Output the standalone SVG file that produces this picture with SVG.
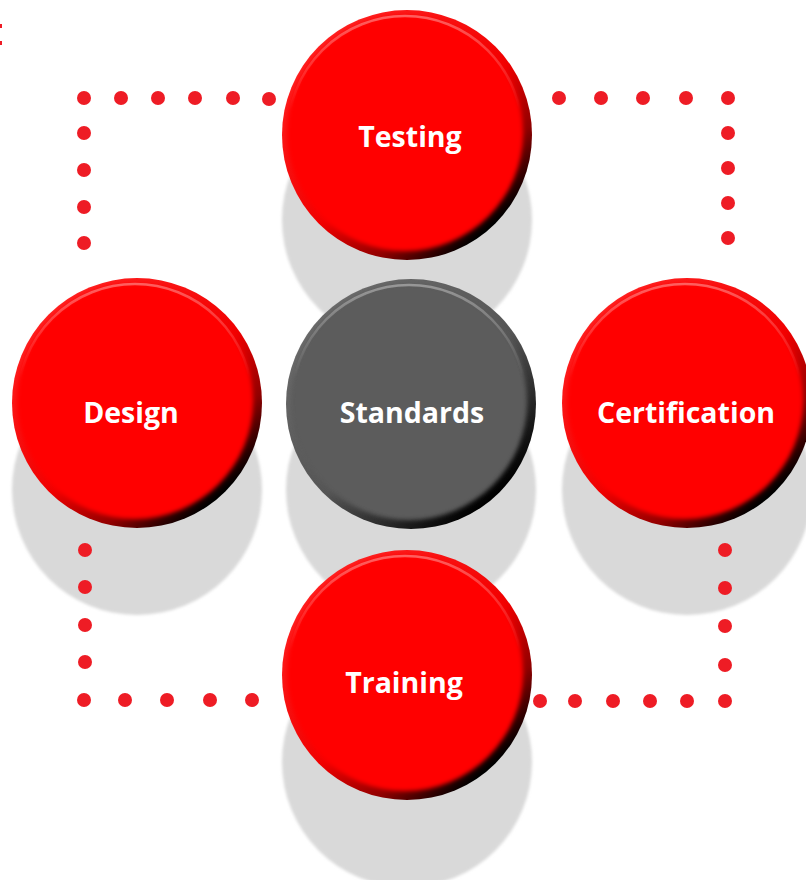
<svg xmlns="http://www.w3.org/2000/svg" width="806" height="880" viewBox="0 0 806 880">
<defs>
<style>
.dot{fill:#ee1c25}
.shadow{fill:#d9d9d9}
.lbl{font-family:"Open Sans","Noto Sans",sans-serif;font-weight:bold;font-size:28.5px;fill:#fff;text-anchor:middle;dominant-baseline:central}
</style>
<linearGradient id="redEdge" x1="0.2" y1="0.1" x2="0.85" y2="0.85">
<stop offset="0" stop-color="#ff2020"/>
<stop offset="0.55" stop-color="#f00000"/>
<stop offset="0.8" stop-color="#900000"/>
<stop offset="1" stop-color="#000"/>
</linearGradient>
<linearGradient id="grayEdge" x1="0.2" y1="0.1" x2="0.85" y2="0.85">
<stop offset="0" stop-color="#6a6a6a"/>
<stop offset="0.55" stop-color="#555"/>
<stop offset="0.8" stop-color="#2a2a2a"/>
<stop offset="1" stop-color="#000"/>
</linearGradient>
<linearGradient id="hl" x1="0" y1="0" x2="0" y2="1">
<stop offset="0" stop-color="#fff" stop-opacity="0.35"/>
<stop offset="0.4" stop-color="#fff" stop-opacity="0"/>
</linearGradient>
<filter id="blur" x="-10%" y="-10%" width="120%" height="120%"><feGaussianBlur stdDeviation="1.5"/></filter>
<filter id="soft" x="-10%" y="-10%" width="120%" height="120%"><feGaussianBlur stdDeviation="2"/></filter>
</defs>
<rect width="806" height="880" fill="#fff"/>
<rect x="0" y="24" width="2" height="4" fill="#ee1c25"/>
<rect x="0" y="41" width="2" height="4" fill="#ee1c25"/>
<g id="shadows">
<circle class="shadow" cx="407" cy="220" r="125" filter="url(#blur)"/>
<circle class="shadow" cx="137" cy="490" r="125" filter="url(#blur)"/>
<circle class="shadow" cx="411" cy="490" r="125" filter="url(#blur)"/>
<circle class="shadow" cx="687" cy="490" r="125" filter="url(#blur)"/>
<circle class="shadow" cx="407" cy="762" r="125" filter="url(#blur)"/>
</g>
<g id="connectors">
<circle class="dot" cx="84" cy="98" r="7"/><circle class="dot" cx="121" cy="98" r="7"/><circle class="dot" cx="158" cy="98" r="7"/><circle class="dot" cx="195" cy="98" r="7"/><circle class="dot" cx="233" cy="98" r="7"/><circle class="dot" cx="269" cy="99" r="7"/>
<circle class="dot" cx="84" cy="133" r="7"/><circle class="dot" cx="84" cy="170" r="7"/><circle class="dot" cx="84" cy="207" r="7"/><circle class="dot" cx="84" cy="243" r="7"/>
<circle class="dot" cx="559" cy="98" r="7"/><circle class="dot" cx="601" cy="98" r="7"/><circle class="dot" cx="643" cy="98" r="7"/><circle class="dot" cx="686" cy="98" r="7"/><circle class="dot" cx="728" cy="98" r="7"/>
<circle class="dot" cx="728" cy="133" r="7"/><circle class="dot" cx="728" cy="168" r="7"/><circle class="dot" cx="728" cy="203" r="7"/><circle class="dot" cx="728" cy="238" r="7"/>
<circle class="dot" cx="85" cy="550" r="7"/><circle class="dot" cx="85" cy="587" r="7"/><circle class="dot" cx="85" cy="625" r="7"/><circle class="dot" cx="85" cy="662" r="7"/>
<circle class="dot" cx="84" cy="700" r="7"/><circle class="dot" cx="125" cy="700" r="7"/><circle class="dot" cx="167" cy="700" r="7"/><circle class="dot" cx="210" cy="700" r="7"/><circle class="dot" cx="252" cy="700" r="7"/>
<circle class="dot" cx="725" cy="550" r="7"/><circle class="dot" cx="725" cy="588" r="7"/><circle class="dot" cx="725" cy="626" r="7"/><circle class="dot" cx="725" cy="665" r="7"/>
<circle class="dot" cx="540" cy="701" r="7"/><circle class="dot" cx="575" cy="701" r="7"/><circle class="dot" cx="613" cy="701" r="7"/><circle class="dot" cx="650" cy="701" r="7"/><circle class="dot" cx="687" cy="701" r="7"/><circle class="dot" cx="725" cy="701" r="7"/>
</g>
<g id="testing">
<circle cx="407" cy="135" r="125" fill="url(#redEdge)"/>
<circle cx="405" cy="133" r="118" fill="#ff0000" filter="url(#soft)"/>
<circle cx="405" cy="133" r="117" fill="none" stroke="url(#hl)" stroke-width="2.5"/>
<text class="lbl" x="410" y="136">Testing</text>
</g>
<g id="design">
<circle cx="137" cy="403" r="125" fill="url(#redEdge)"/>
<circle cx="135" cy="401" r="118" fill="#ff0000" filter="url(#soft)"/>
<circle cx="135" cy="401" r="117" fill="none" stroke="url(#hl)" stroke-width="2.5"/>
<text class="lbl" x="131" y="412">Design</text>
</g>
<g id="standards">
<circle cx="411" cy="404" r="125" fill="url(#grayEdge)"/>
<circle cx="409" cy="402" r="118" fill="#5c5c5c" filter="url(#soft)"/>
<circle cx="409" cy="402" r="117" fill="none" stroke="url(#hl)" stroke-width="2.5"/>
<text class="lbl" x="412" y="412">Standards</text>
</g>
<g id="certification">
<circle cx="687" cy="403" r="125" fill="url(#redEdge)"/>
<circle cx="685" cy="401" r="118" fill="#ff0000" filter="url(#soft)"/>
<circle cx="685" cy="401" r="117" fill="none" stroke="url(#hl)" stroke-width="2.5"/>
<text class="lbl" x="686" y="412">Certification</text>
</g>
<g id="training">
<circle cx="407" cy="675" r="125" fill="url(#redEdge)"/>
<circle cx="405" cy="673" r="118" fill="#ff0000" filter="url(#soft)"/>
<circle cx="405" cy="673" r="117" fill="none" stroke="url(#hl)" stroke-width="2.5"/>
<text class="lbl" x="404" y="682">Training</text>
</g>
</svg>
